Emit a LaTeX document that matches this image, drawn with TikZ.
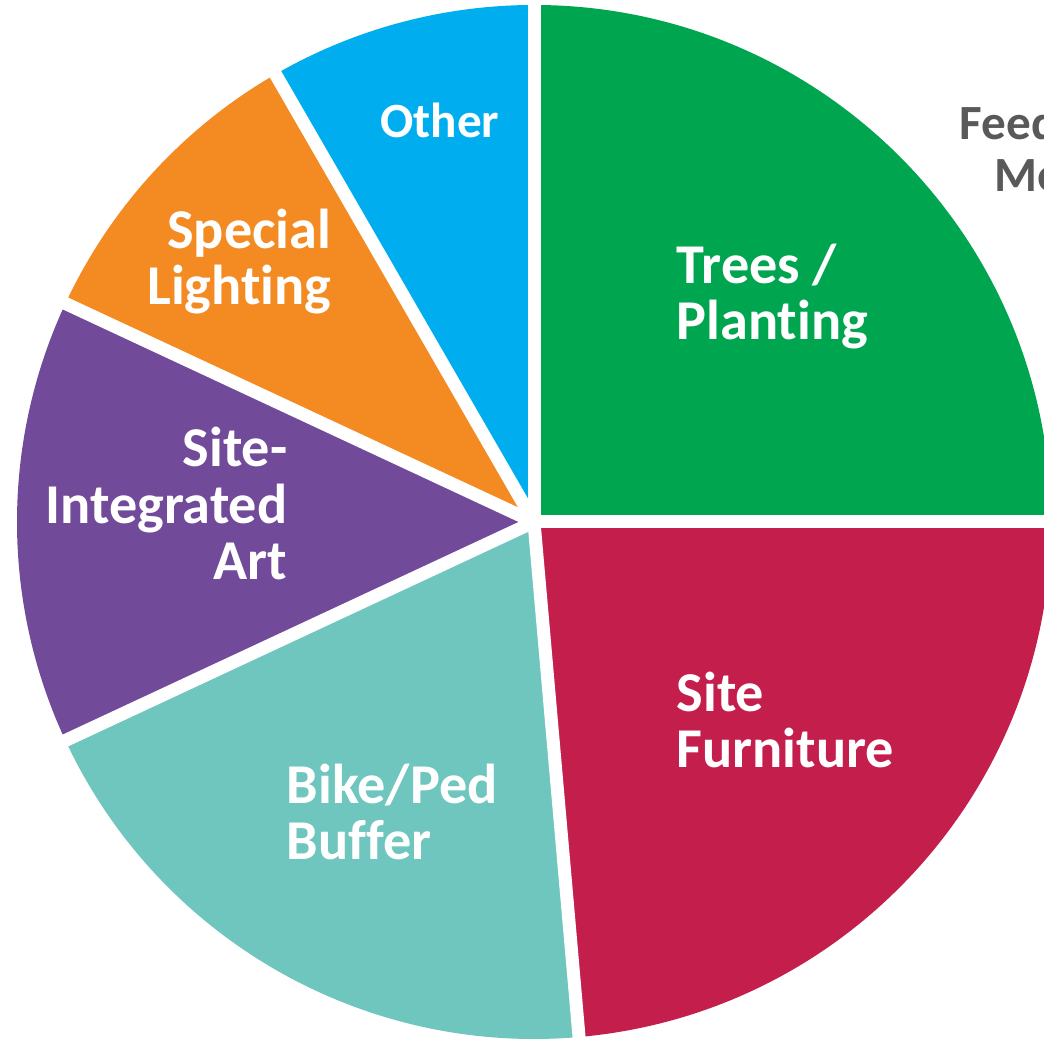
\documentclass[tikz,border=0pt]{standalone}
\usepackage{fontspec}
\setmainfont{Carlito}[Ligatures=NoCommon]
\usetikzlibrary{positioning}

\definecolor{treegreen}{HTML}{00A550}
\definecolor{otherblue}{HTML}{00AEEF}
\definecolor{lightorange}{HTML}{F38B22}
\definecolor{artpurple}{HTML}{724A9A}
\definecolor{bufferteal}{HTML}{6EC6BE}
\definecolor{furnred}{HTML}{C41E4D}
\definecolor{notegray}{HTML}{595959}

\begin{document}
\begin{tikzpicture}[gap/.style={draw=white,line width=1.3mm,line cap=round},
    slicetext/.style={text=white,inner sep=0pt,font=\bfseries\fontsize{16}{16.2}\selectfont},
    smalltext/.style={inner sep=0pt,font=\bfseries\fontsize{14}{14.8}\selectfont}]

    \useasboundingbox[fill=white] (0,0) rectangle (10.44,10.40);

    \coordinate (c) at (5.34,5.18);

    \foreach \a/\b/\col in {0/90/treegreen,90/120/otherblue,120/155/lightorange,
                            155/205/artpurple,205/275/bufferteal,275/360/furnred}
        \fill[\col] (c) -- ++(\a:5.17) arc[start angle=\a,end angle=\b,radius=5.17] -- cycle;

    \foreach \a in {0,90,120,155,205,275}
        \draw[gap] (c) -- ++(\a:5.35);

    \node[slicetext,anchor=base west,align=left] (trees) at (6.76,7.00) {Trees /\\Planting};
    \node[slicetext,anchor=base west,align=left] (furniture) at (6.76,2.72) {Site\\Furniture};
    \node[slicetext,anchor=base west,align=left] (buffer) at (2.86,1.80) {Bike/Ped\\Buffer};
    \node[slicetext,anchor=base east,align=right] (art) at (2.88,4.60) {Site-\\Integrated\\Art};
    \node[slicetext,anchor=base east,align=right] (lighting) at (3.32,7.35) {Special\\Lighting};
    \node[smalltext,text=white,anchor=base east] (other) at (5.00,9.02) {Other};

    \node[smalltext,text=notegray,anchor=base west] (feed) at (9.59,9.00) {Feed};
    \node[smalltext,text=notegray,anchor=base west] (me) at (9.94,8.48) {Me};

\end{tikzpicture}
\end{document}
